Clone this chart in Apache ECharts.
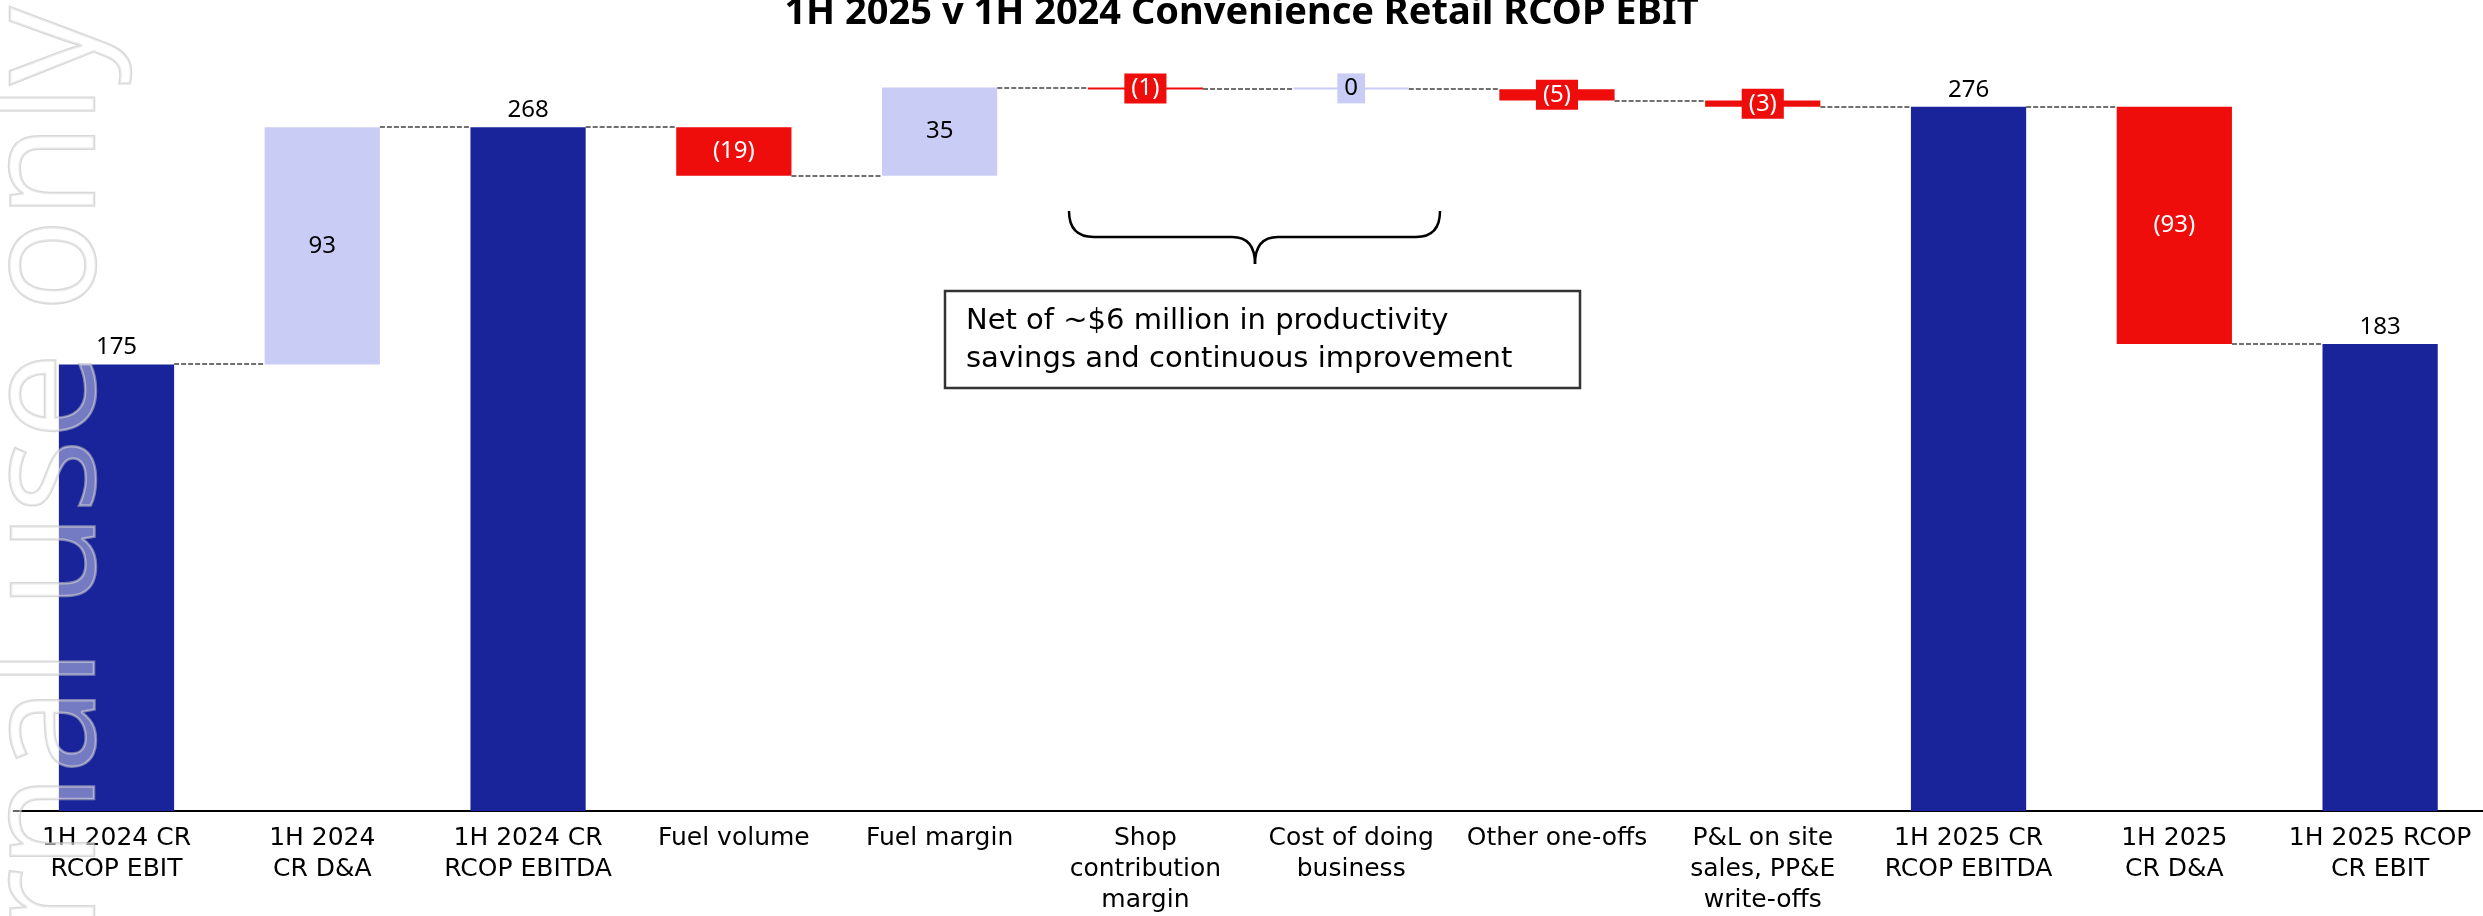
<!DOCTYPE html>
<html>
<head>
<meta charset="utf-8">
<title>1H 2025 v 1H 2024 Convenience Retail RCOP EBIT</title>
<script src="https://cdn.jsdelivr.net/npm/echarts@6/dist/echarts.min.js"></script>
<style>
  html, body { margin: 0; padding: 0; background: #fff; }
  #chart { width: 2483px; height: 916px; }
</style>
</head>
<body>
<div id="chart"></div>
<script>
// 数据
const categories = [
  "1H 2024 CR\nRCOP EBIT",
  "1H 2024\nCR D&A",
  "1H 2024 CR\nRCOP EBITDA",
  "Fuel volume",
  "Fuel margin",
  "Shop\ncontribution\nmargin",
  "Cost of doing\nbusiness",
  "Other one-offs",
  "P&L on site\nsales, PP&E\nwrite-offs",
  "1H 2025 CR\nRCOP EBITDA",
  "1H 2025\nCR D&A",
  "1H 2025 RCOP\nCR EBIT"
];
const values = [175, 93, 268, -19, 34.5, -0.7, 0.1, -4.5, -2.4, 276, -93, 183];
const isTotal = [true, false, true, false, false, false, false, false, false, true, false, true];
const valueLabels = ["175", "93", "268", "(19)", "35", "(1)", "0", "(5)", "(3)", "276", "(93)", "183"];

const DARK = "#19249b";
const LIGHT = "#c9ccf5";
const RED = "#ee0d0b";
const FONT = "'Noto Sans', sans-serif";
const FONT_WIDE = "'DejaVu Sans', sans-serif";

// 瀑布图：透明底座 + 可见柱
let running = 0;
const baseData = [];
const barData = [];
const levels = [];
values.forEach((v, i) => {
  let color, label;
  if (isTotal[i]) {
    baseData.push(0);
    running = v;
    color = DARK;
    label = { position: "top", distance: 5, color: "#000" };
  } else {
    const end = running + v;
    baseData.push(Math.min(running, end));
    running = end;
    color = v >= 0 ? LIGHT : RED;
    label = { position: "inside", color: v >= 0 ? "#000" : "#fff" };
    if (Math.abs(v) < 10) {
      // 小柱子的标签加底色
      label.backgroundColor = color;
      label.padding = [3, 7, 3, 7];
    }
  }
  barData.push({
    value: Math.abs(v),
    itemStyle: { color: color },
    label: label
  });
  levels.push([i, running]);
});

const BAR_RATIO = 0.56;

const myChart = echarts.init(document.getElementById("chart"));
const option = {
  animation: false,
  backgroundColor: "#fff",
  title: {
    text: "1H 2025 v 1H 2024 Convenience Retail RCOP EBIT",
    left: "center",
    top: -11,
    textStyle: { fontFamily: FONT, fontSize: 38, fontWeight: "bold", color: "#000" }
  },
  grid: { left: 13.6, right: 0, top: 45.5, bottom: 104 },
  xAxis: {
    type: "category",
    data: categories,
    axisLine: { lineStyle: { color: "#000", width: 2 } },
    axisTick: { show: false },
    axisLabel: {
      interval: 0,
      margin: 12,
      color: "#000",
      fontFamily: FONT_WIDE,
      fontSize: 25,
      lineHeight: 31
    }
  },
  yAxis: {
    type: "value",
    min: 0,
    max: 300,
    show: false,
    splitLine: { show: false }
  },
  series: [
    {
      type: "bar",
      stack: "wf",
      data: baseData,
      barWidth: BAR_RATIO * 100 + "%",
      itemStyle: { color: "transparent" },
      silent: true
    },
    {
      type: "bar",
      stack: "wf",
      data: barData,
      barWidth: BAR_RATIO * 100 + "%",
      barMinHeight: 2,
      label: {
        show: true,
        fontFamily: FONT,
        fontSize: 24,
        formatter: (p) => valueLabels[p.dataIndex]
      }
    },
    {
      // 柱子之间的虚线
      type: "custom",
      data: levels.slice(0, -1),
      z: 1,
      renderItem: (params, api) => {
        const p = api.coord([api.value(0), api.value(1)]);
        const w = api.size([1, 0])[0];
        const half = (w * BAR_RATIO) / 2;
        const y = Math.round(p[1]);
        return {
          type: "line",
          shape: { x1: p[0] + half, y1: y, x2: p[0] + w - half, y2: y },
          style: { stroke: "#707070", lineWidth: 2, lineDash: [5, 2] }
        };
      }
    }
  ],
  graphic: [
    {
      // 大括号
      type: "group",
      z: 50,
      children: [
        { type: "bezierCurve", shape: { x1: 1069, y1: 211, cpx1: 1069, cpy1: 237, x2: 1094, y2: 237 }, style: { stroke: "#000", lineWidth: 2.5, fill: null } },
        { type: "line", shape: { x1: 1094, y1: 237, x2: 1232, y2: 237 }, style: { stroke: "#000", lineWidth: 2.5 } },
        { type: "bezierCurve", shape: { x1: 1232, y1: 237, cpx1: 1255, cpy1: 237, x2: 1255, y2: 264 }, style: { stroke: "#000", lineWidth: 2.5, fill: null } },
        { type: "bezierCurve", shape: { x1: 1255, y1: 264, cpx1: 1255, cpy1: 237, x2: 1278, y2: 237 }, style: { stroke: "#000", lineWidth: 2.5, fill: null } },
        { type: "line", shape: { x1: 1278, y1: 237, x2: 1416, y2: 237 }, style: { stroke: "#000", lineWidth: 2.5 } },
        { type: "bezierCurve", shape: { x1: 1416, y1: 237, cpx1: 1440, cpy1: 237, x2: 1440, y2: 211 }, style: { stroke: "#000", lineWidth: 2.5, fill: null } }
      ]
    },
    {
      type: "rect",
      z: 50,
      shape: { x: 945, y: 291, width: 635, height: 97 },
      style: { fill: "#fff", stroke: "#333", lineWidth: 2.5 }
    },
    {
      type: "text",
      z: 51,
      x: 966,
      y: 340,
      style: {
        text: "Net of ~$6 million in productivity\nsavings and continuous improvement",
        fontFamily: FONT_WIDE,
        fontSize: 29,
        lineHeight: 38,
        fill: "#000",
        align: "left",
        verticalAlign: "middle"
      }
    },
    {
      // 水印
      type: "text",
      z: 100,
      x: 127,
      y: 7,
      rotation: Math.PI / 2,
      style: {
        text: "Internal use only",
        fontFamily: "'Open Sans', sans-serif",
        fontSize: 155,
        fill: "rgba(255,255,255,0.4)",
        stroke: "rgba(190,190,190,0.6)",
        lineWidth: 2.5,
        align: "right",
        verticalAlign: "bottom"
      }
    }
  ]
};
myChart.setOption(option);
window.addEventListener("resize", () => myChart.resize());
</script>
</body>
</html>
